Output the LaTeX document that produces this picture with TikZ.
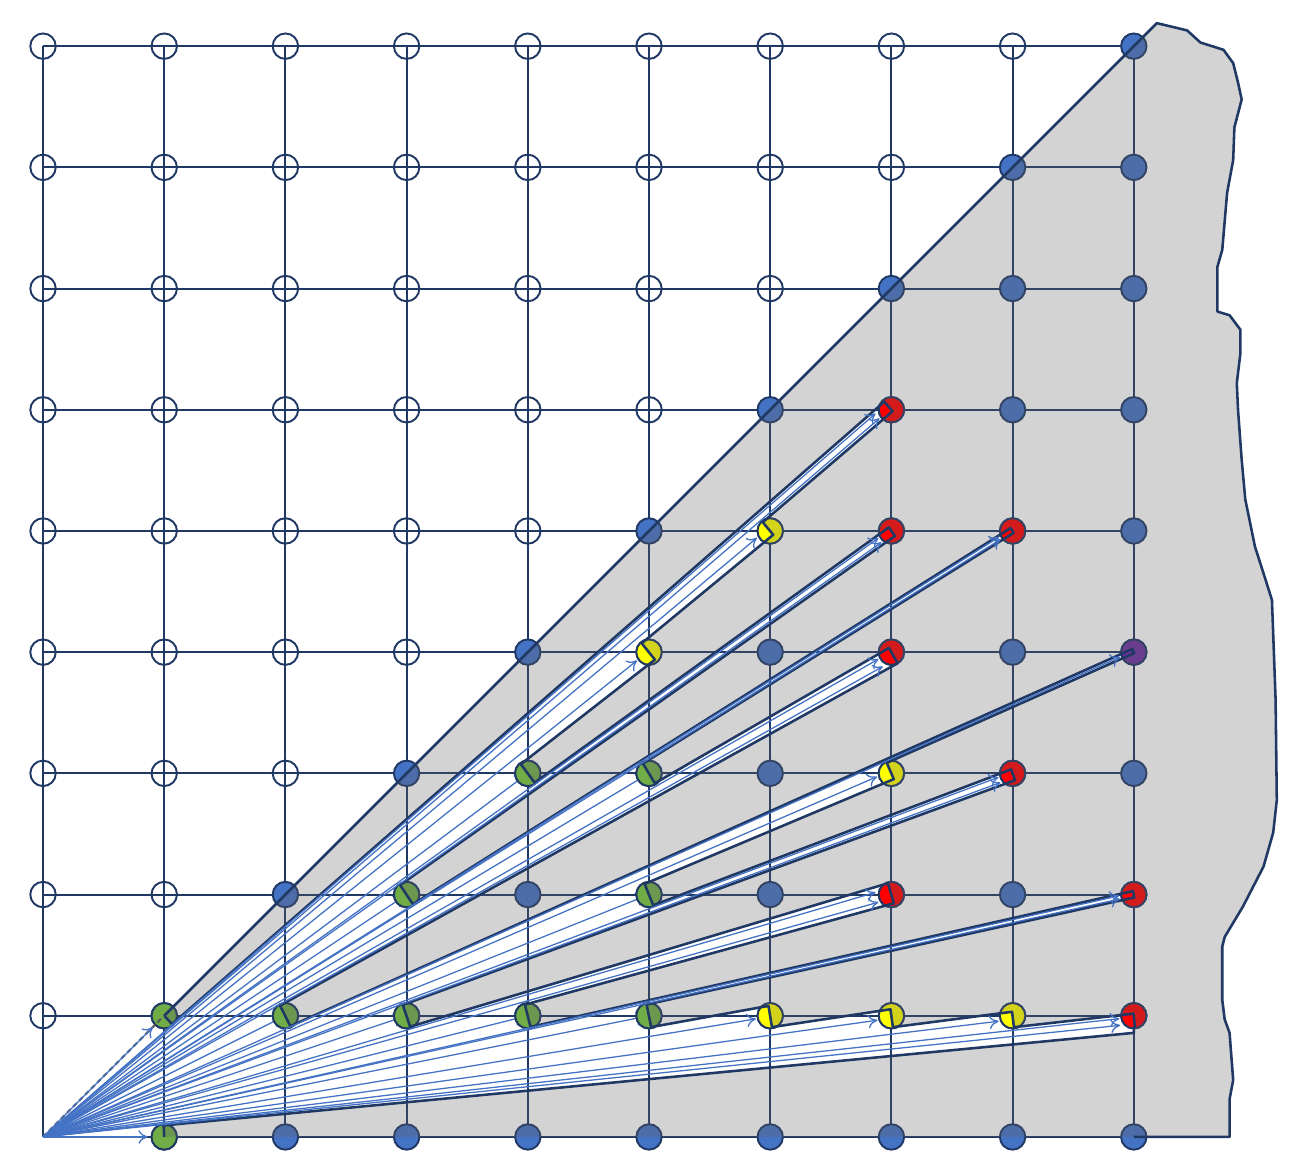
\documentclass[tikz,border=0pt]{standalone}
\usetikzlibrary{arrows.meta}

\definecolor{navy}{RGB}{32,56,100}
\definecolor{siteblue}{RGB}{68,114,196}
\definecolor{sitegreen}{RGB}{112,173,71}
\definecolor{siteyellow}{RGB}{255,255,0}
\definecolor{sitered}{RGB}{255,0,0}
\definecolor{sitepurple}{RGB}{112,48,160}
\definecolor{shadegray}{RGB}{97,97,97}

% angle of a tangent from the origin to the site (i,j): side -1, 0 or 1
\pgfmathdeclarefunction{shedge}{3}{%
  \pgfmathparse{atan2(#2,#1)+(#3)*asin(0.095/veclen(#1,#2))}}

\tikzset{%
  lattice line/.style={
    draw=navy,
    line width=0.45pt
  },
  site/.style={
    circle,
    draw=navy,
    line width=0.45pt,
    minimum size=0.21cm,
    inner sep=0pt
  },
  open site/.style={
    site,
    fill=none
  },
  dark area/.style={
    fill=shadegray,
    fill opacity=0.28,
    even odd rule
  },
  cone edge/.style={
    draw=navy,
    line width=0.6pt,
    line join=round
  },
  sight/.style={
    draw=siteblue,
    line width=0.3pt,
    -{To[length=2.2pt,width=3.2pt]}
  },
}

% visible pieces: site / start side / end side / arrows
\def\intervals{9/1/9/1/-1/8/1/-1/2, 8/1/8/1/-1/7/1/-1/1, 7/1/7/1/-1/6/1/-1/1,
  6/1/6/1/-1/5/1/-1/1, 5/1/5/1/-1/5/1/1/0, 9/2/5/1/1/4/1/-1/2,
  4/1/4/1/-1/4/1/1/0, 7/2/4/1/1/3/1/-1/2, 3/1/3/1/-1/3/1/1/0,
  8/3/3/1/1/5/2/-1/2, 5/2/5/2/-1/5/2/1/0, 7/3/5/2/1/7/3/1/1,
  9/4/7/3/1/2/1/-1/1, 2/1/2/1/-1/2/1/1/0, 7/4/2/1/1/5/3/-1/2,
  5/3/5/3/-1/5/3/1/0, 8/5/5/3/1/3/2/-1/2, 3/2/3/2/-1/3/2/1/0,
  7/5/3/2/1/4/3/-1/2, 4/3/4/3/-1/4/3/1/0, 5/4/4/3/1/5/4/1/1,
  6/5/5/4/1/6/5/1/1, 7/6/6/5/1/1/1/-1/2, 1/1/1/1/-1/1/1/0/0}

% torn right edge of the cone
\def\tornedge{9.44/9.13, 9.55/9.03, 9.74/8.97, 9.82/8.86, 9.86/8.70,
  9.89/8.56, 9.83/8.33, 9.82/8.06, 9.77/7.79, 9.73/7.32, 9.69/7.18,
  9.69/6.81, 9.79/6.78, 9.88/6.66, 9.88/6.47, 9.85/6.22, 9.86/6.00,
  9.89/5.59, 9.92/5.26, 10.0/4.87, 10.08/4.62, 10.14/4.43, 10.17/3.61,
  10.18/2.78, 10.15/2.51, 10.07/2.23, 9.90/1.90, 9.75/1.65, 9.73/1.57,
  9.73/1.13, 9.75/0.97, 9.79/0.86, 9.82/0.47, 9.79/0.31, 9.79/0}

\begin{document}
\begin{tikzpicture}
\path[fill=white, use as bounding box] (-0.355,-0.272) rectangle (10.421,9.381);
\coordinate (O) at (0,0);

\foreach \k in {0,...,9} {
  \draw[lattice line] (\k,0) -- (\k,9);
  \draw[lattice line] (0,\k) -- (9,\k);
}

% sight lines that end under the green sites
\foreach \i/\j in {2/1,3/1,4/1,5/1,3/2,5/2,4/3,5/3}
  \draw[sight] (O) -- ({atan2(\j,\i)}:{veclen(\i,\j)-0.03});

\foreach \j in {1,...,9}
  \foreach \i in {0,...,9} {
    \ifnum\i<\j
      \node[open site] (p-\i-\j) at (\i,\j) {};
    \else
      \node[site, fill=siteblue] (p-\i-\j) at (\i,\j) {};
    \fi
  }
\foreach \i in {1,...,9}
  \node[site, fill=siteblue] (p-\i-0) at (\i,0) {};

\foreach \i/\j in {1/0,1/1,2/1,3/1,4/1,5/1,3/2,5/2,4/3,5/3}
  \node[site, fill=sitegreen] (p-\i-\j) at (\i,\j) {};
\foreach \i/\j in {6/1,7/1,8/1,7/3,5/4,6/5}
  \node[site, fill=siteyellow] (p-\i-\j) at (\i,\j) {};
\foreach \i/\j in {9/1,7/2,9/2,8/3,7/4,7/5,8/5,7/6}
  \node[site, fill=sitered] (p-\i-\j) at (\i,\j) {};
\node[site, fill=sitepurple] (p-9-4) at (9,4) {};

% shadow = cone minus the lit star
\fill[dark area] (O) -- (9.19,9.19) \foreach \x/\y in \tornedge { -- (\x,\y) } -- cycle
  (O) -- (0:1) -- ({shedge(1,0,1)}:1) -- (9,{9*tan(shedge(1,0,1))})
  -- (9,{9*tan(shedge(9,1,-1))})
  \foreach \i/\j/\ai/\aj/\as/\bi/\bj/\bs/\n in \intervals {
    -- ({shedge(\ai,\aj,\as)}:{veclen(\i,\j)})
    -- ({shedge(\bi,\bj,\bs)}:{veclen(\i,\j)})
  } -- cycle;

\draw[cone edge] (p-1-1.center) -- (9.19,9.19)
  \foreach \x/\y in \tornedge { -- (\x,\y) } -- (9,0);
\draw[cone edge] (0:1) -- ({shedge(1,0,1)}:1) -- (9,{9*tan(shedge(1,0,1))})
  -- (9,{9*tan(shedge(9,1,-1))})
  \foreach \i/\j/\ai/\aj/\as/\bi/\bj/\bs/\n in \intervals {
    -- ({shedge(\ai,\aj,\as)}:{veclen(\i,\j)})
    -- ({shedge(\bi,\bj,\bs)}:{veclen(\i,\j)})
  };
\draw[black!65, line width=0.5pt, dash pattern=on 1.2pt off 0.8pt] (O) -- (p-1-1.center);

% sight lines to the partly hidden sites
\foreach \i/\j/\ai/\aj/\as/\bi/\bj/\bs/\n in \intervals {
  \pgfmathsetmacro\ta{shedge(\ai,\aj,\as)}
  \pgfmathsetmacro\tb{shedge(\bi,\bj,\bs)}
  \pgfmathsetmacro\rr{veclen(\i,\j)-0.12}
  \ifcase\n\relax
  \or
    \draw[sight] (O) -- ({(\ta+\tb)/2}:\rr);
  \or
    \draw[sight] (O) -- ({\ta+0.25*(\tb-\ta)}:\rr);
    \draw[sight] (O) -- ({\tb-0.25*(\tb-\ta)}:\rr);
  \fi
}
\draw[sight] (O) -- (0:0.865);
\draw[sight] (O) -- (45:1.28);

\end{tikzpicture}
\end{document}
